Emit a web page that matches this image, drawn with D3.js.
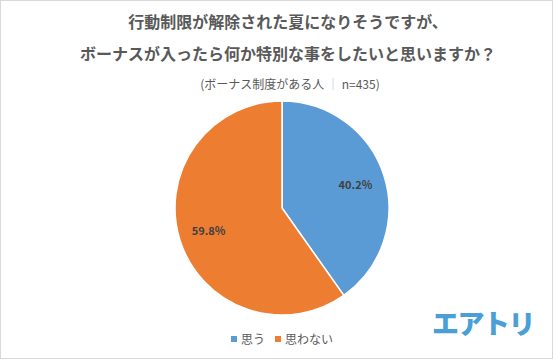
<!DOCTYPE html>
<html><head><meta charset="utf-8">
<script src="https://cdn.jsdelivr.net/npm/d3@7/dist/d3.min.js"></script>
<style>body{margin:0;background:#fff;}svg{display:block;font-family:"Noto Sans CJK JP","Noto Sans",sans-serif;}</style>
</head><body>
<svg id="c" width="554" height="360"></svg>
<script>
const categories = ["思う", "思わない"];
const values = [40.2, 59.8];
const labels = ["40.2%", "59.8%"];
const colors = ["#5b9bd5", "#ed7d31"];
const titleLines = ["行動制限が解除された夏になりそうですが、", "ボーナスが入ったら何か特別な事をしたいと思いますか？"];

const svg = d3.select("#c");
svg.append("rect").attr("x",0.5).attr("y",0.5).attr("width",552).attr("height",358)
  .attr("fill","#fff").attr("stroke","#d9d9d9");

svg.selectAll("text.title").data(titleLines).enter().append("text")
  .attr("x",288).attr("y",(d,i)=>28+i*32).attr("text-anchor","middle")
  .attr("font-size",16).attr("font-weight","bold").attr("fill","#595959").text(d=>d);

const sub = svg.append("text").attr("x",290).attr("y",89).attr("text-anchor","middle")
  .attr("font-size",12).attr("fill","#595959");
sub.append("tspan").text("(ボーナス制度がある人 ");
sub.append("tspan").attr("fill","#9dc3e6").text("｜");
sub.append("tspan").text(" n=435)");

const cx=282, cy=208, r=107;
const pie = d3.pie().sort(null).value(d=>d)(values);
const arc = d3.arc().innerRadius(0).outerRadius(r);
const g = svg.append("g").attr("transform",`translate(${cx},${cy})`);
g.selectAll("path").data(pie).enter().append("path")
  .attr("d",arc).attr("fill",(d,i)=>colors[i]).attr("stroke","#fff").attr("stroke-width",1.5);
const lab = d3.arc().innerRadius(r*0.72).outerRadius(r*0.72);
g.selectAll("text").data(pie).enter().append("text")
  .attr("transform",d=>`translate(${lab.centroid(d)})`)
  .attr("text-anchor","middle").attr("dy","0.35em")
  .attr("font-size",11).attr("font-weight","bold").attr("fill","#404040")
  .text((d,i)=>labels[i]);

const leg = svg.append("g");
const lx = [231, 275];
categories.forEach((c,i)=>{
  leg.append("rect").attr("x",lx[i]).attr("y",336).attr("width",6).attr("height",6).attr("fill",colors[i]);
  leg.append("text").attr("x",lx[i]+10).attr("y",343.5).attr("font-size",12).attr("fill","#595959").text(c);
});

svg.append("text").attr("x",483).attr("y",334).attr("text-anchor","middle")
  .attr("font-size",27).attr("font-weight","900").attr("fill","#4a9fd6").attr("letter-spacing",-1.5).text("エアトリ");
</script>
</body></html>
